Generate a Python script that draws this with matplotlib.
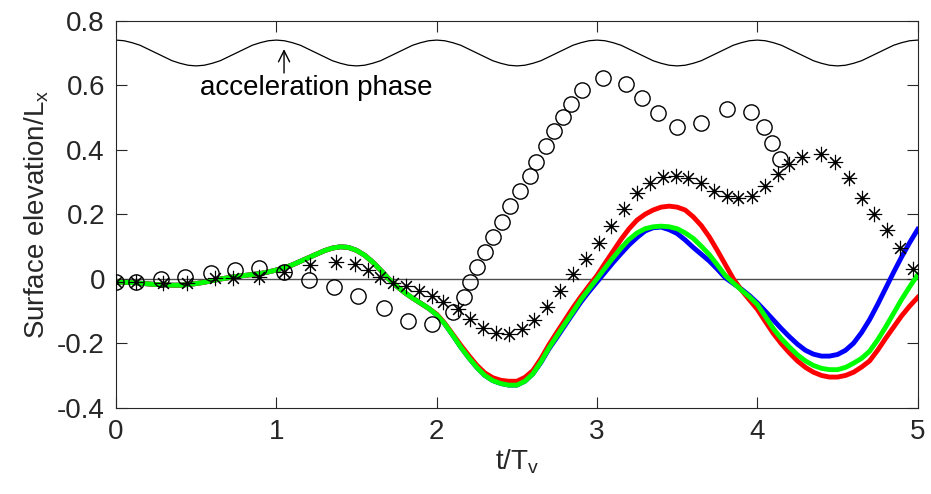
import numpy as np
from matplotlib import pyplot as plt

plt.rcParams['font.family'] = ['Liberation Sans', 'DejaVu Sans']
plt.rcParams['font.size'] = 20

# --- data -----------------------------------------------------------------
t = np.round(np.arange(0, 5.001, 0.05), 2)

# acceleration-phase indicator (one value every 0.05 T_v)
accel = [0.740, 0.738, 0.732, 0.724, 0.712, 0.700, 0.688, 0.676, 0.668, 0.662,
         0.660, 0.662, 0.668, 0.676, 0.688, 0.700, 0.712, 0.724, 0.732, 0.738,
         0.740, 0.738, 0.732, 0.724, 0.712, 0.700, 0.688, 0.676, 0.668, 0.662,
         0.660, 0.662, 0.668, 0.676, 0.688, 0.700, 0.712, 0.724, 0.732, 0.738,
         0.740, 0.738, 0.732, 0.724, 0.712, 0.700, 0.688, 0.676, 0.668, 0.662,
         0.660, 0.662, 0.668, 0.676, 0.688, 0.700, 0.712, 0.724, 0.732, 0.738,
         0.740, 0.738, 0.732, 0.724, 0.712, 0.700, 0.688, 0.676, 0.668, 0.662,
         0.660, 0.662, 0.668, 0.676, 0.688, 0.700, 0.712, 0.724, 0.732, 0.738,
         0.740, 0.738, 0.732, 0.724, 0.712, 0.700, 0.688, 0.676, 0.668, 0.662,
         0.660, 0.662, 0.668, 0.676, 0.688, 0.700, 0.712, 0.724, 0.732, 0.738,
         0.740]

green = [-0.010, -0.011, -0.012, -0.014, -0.016, -0.018, -0.019, -0.020, -0.020, -0.018,
         -0.015, -0.011, -0.006, -0.001, 0.003, 0.007, 0.010, 0.013, 0.016, 0.021,
         0.027, 0.034, 0.043, 0.054, 0.065, 0.076, 0.087, 0.095, 0.099, 0.097,
         0.088, 0.073, 0.052, 0.027, 0.000, -0.023, -0.043, -0.060, -0.076, -0.092,
         -0.112, -0.140, -0.175, -0.212, -0.245, -0.275, -0.300, -0.316, -0.325, -0.330,
         -0.330, -0.318, -0.295, -0.258, -0.215, -0.177, -0.140, -0.103, -0.065, -0.032,
         0.000, 0.033, 0.065, 0.095, 0.122, 0.142, 0.155, 0.161, 0.163, 0.161,
         0.155, 0.142, 0.125, 0.101, 0.075, 0.043, 0.010, -0.013, -0.035, -0.056,
         -0.080, -0.117, -0.155, -0.186, -0.212, -0.236, -0.255, -0.269, -0.278, -0.282,
         -0.282, -0.275, -0.262, -0.247, -0.225, -0.190, -0.150, -0.107, -0.064, -0.025,
         0.012]

red = [-0.010, -0.011, -0.012, -0.014, -0.016, -0.018, -0.019, -0.020, -0.020, -0.018,
       -0.015, -0.011, -0.006, -0.001, 0.003, 0.007, 0.010, 0.013, 0.016, 0.021,
       0.027, 0.034, 0.043, 0.054, 0.065, 0.076, 0.087, 0.095, 0.099, 0.097,
       0.088, 0.073, 0.052, 0.027, 0.000, -0.023, -0.043, -0.060, -0.076, -0.092,
       -0.110, -0.138, -0.172, -0.206, -0.238, -0.268, -0.292, -0.307, -0.315, -0.318,
       -0.318, -0.306, -0.285, -0.248, -0.205, -0.166, -0.128, -0.090, -0.055, -0.022,
       0.010, 0.048, 0.085, 0.122, 0.155, 0.182, 0.200, 0.213, 0.222, 0.225,
       0.222, 0.213, 0.192, 0.165, 0.130, 0.088, 0.044, 0.000, -0.035, -0.065,
       -0.095, -0.133, -0.170, -0.202, -0.230, -0.255, -0.275, -0.290, -0.300, -0.305,
       -0.305, -0.300, -0.290, -0.274, -0.255, -0.222, -0.185, -0.150, -0.115, -0.085,
       -0.058]

blue = [-0.010, -0.011, -0.012, -0.014, -0.016, -0.018, -0.019, -0.020, -0.020, -0.018,
        -0.015, -0.011, -0.006, -0.001, 0.003, 0.007, 0.010, 0.013, 0.016, 0.021,
        0.027, 0.034, 0.043, 0.054, 0.065, 0.076, 0.087, 0.095, 0.099, 0.097,
        0.088, 0.073, 0.052, 0.027, 0.000, -0.023, -0.043, -0.060, -0.076, -0.092,
        -0.112, -0.140, -0.175, -0.212, -0.245, -0.275, -0.300, -0.316, -0.325, -0.330,
        -0.330, -0.318, -0.295, -0.260, -0.218, -0.182, -0.145, -0.108, -0.072, -0.040,
        -0.010, 0.020, 0.050, 0.078, 0.105, 0.128, 0.148, 0.158, 0.160, 0.152,
        0.140, 0.120, 0.097, 0.076, 0.055, 0.030, 0.003, -0.015, -0.032, -0.052,
        -0.075, -0.101, -0.128, -0.155, -0.180, -0.203, -0.222, -0.234, -0.240, -0.240,
        -0.235, -0.222, -0.200, -0.167, -0.127, -0.080, -0.030, 0.020, 0.068, 0.112,
        0.153]

circ_x = [0, 0.125, 0.28, 0.43, 0.59, 0.74, 0.89, 1.05, 1.205, 1.36, 1.51, 1.67, 1.82,
          1.97, 2.10, 2.17, 2.21, 2.25, 2.30, 2.35, 2.41, 2.46, 2.52, 2.58, 2.62, 2.68,
          2.73, 2.79, 2.84, 2.905, 3.035, 3.18, 3.28, 3.38, 3.50, 3.65, 3.81, 3.96,
          4.04, 4.09, 4.14]
circ_y = [-0.01, -0.01, 0.0, 0.006, 0.017, 0.027, 0.032, 0.022, -0.004, -0.027, -0.053,
          -0.09, -0.13, -0.141, -0.102, -0.056, -0.009, 0.037, 0.082, 0.13, 0.177, 0.224,
          0.272, 0.318, 0.361, 0.411, 0.458, 0.50, 0.541, 0.585, 0.621, 0.604, 0.561,
          0.513, 0.471, 0.482, 0.525, 0.518, 0.471, 0.422, 0.370]

star_x = [0, 0.125, 0.29, 0.44, 0.62, 0.73, 0.89, 1.05, 1.21, 1.37, 1.49, 1.57, 1.645,
          1.73, 1.81, 1.89, 1.97, 2.04, 2.13, 2.21, 2.29, 2.37, 2.45, 2.53, 2.61, 2.69,
          2.77, 2.85, 2.93, 3.01, 3.09, 3.17, 3.25, 3.33, 3.41, 3.49, 3.57, 3.65, 3.73,
          3.81, 3.88, 3.965, 4.05, 4.13, 4.20, 4.28, 4.40, 4.485, 4.57, 4.65, 4.73,
          4.81, 4.89, 4.97]
star_y = [-0.01, -0.01, -0.014, -0.014, 0.003, 0.003, 0.006, 0.022, 0.042, 0.053, 0.045,
          0.027, 0.006, -0.014, -0.023, -0.037, -0.053, -0.071, -0.095, -0.125, -0.152,
          -0.169, -0.171, -0.157, -0.128, -0.089, -0.037, 0.014, 0.062, 0.112, 0.163,
          0.216, 0.265, 0.296, 0.316, 0.319, 0.311, 0.296, 0.273, 0.256, 0.249, 0.256,
          0.287, 0.324, 0.355, 0.376, 0.386, 0.363, 0.311, 0.249, 0.20, 0.151, 0.094,
          0.029]

xticks = [0, 1, 2, 3, 4, 5]
yticks = [-0.4, -0.2, 0, 0.2, 0.4, 0.6, 0.8]
ytick_labels = ['-0.4', '-0.2', '0', '0.2', '0.4', '0.6', '0.8']

# --- plot ----------------------------------------------------------------
fig = plt.figure(figsize=(9.31, 4.94), dpi=100)
ax = fig.add_axes([0.1246, 0.1747, 0.8611, 0.7833])

ax.axhline(0, color='0.3', lw=1, zorder=1)
ax.plot(t, accel, color='k', lw=0.9)

ax.plot(t, blue, color='#0000ff', lw=3.5, zorder=3)
ax.plot(t, red, color='#ff0000', lw=3.5, zorder=3)
ax.plot(t, green, color='#00ff00', lw=3.5, zorder=3)

ax.plot(circ_x, circ_y, linestyle='none', marker='o', ms=11, mfc='none',
        mec='k', mew=1, zorder=4)
ax.plot(star_x, star_y, linestyle='none', marker=(8, 2, 0), ms=11,
        mec='k', mew=0.8, zorder=4)
ax.plot(star_x, star_y, linestyle='none', marker='s', ms=2, color='k', zorder=4)

ax.annotate('', xy=(1.048, 0.712), xytext=(1.048, 0.638),
            arrowprops=dict(arrowstyle='->', color='k', lw=1, shrinkA=0, shrinkB=0))
ax.text(1.252, 0.592, 'acceleration phase', ha='center', va='center', fontsize=20)

ax.set_xlim(0, 5)
ax.set_ylim(-0.4, 0.8)
ax.set_xticks(xticks)
ax.set_xticklabels([str(v) for v in xticks])
ax.set_yticks(yticks)
ax.set_yticklabels(ytick_labels)
ax.tick_params(direction='in', length=8, width=0.8, top=True, right=True,
               colors='0.15', labelsize=20, pad=8)
for s in ax.spines.values():
    s.set_color('0.15')
    s.set_linewidth(0.8)

ax.set_xlabel('t/T$_\\mathregular{v}$', fontsize=20, color='0.15', labelpad=2)
ax.set_ylabel('Surface elevation/L$_\\mathregular{x}$', fontsize=20, color='0.15',
              labelpad=4)

fig.savefig('out.png', dpi=100)
